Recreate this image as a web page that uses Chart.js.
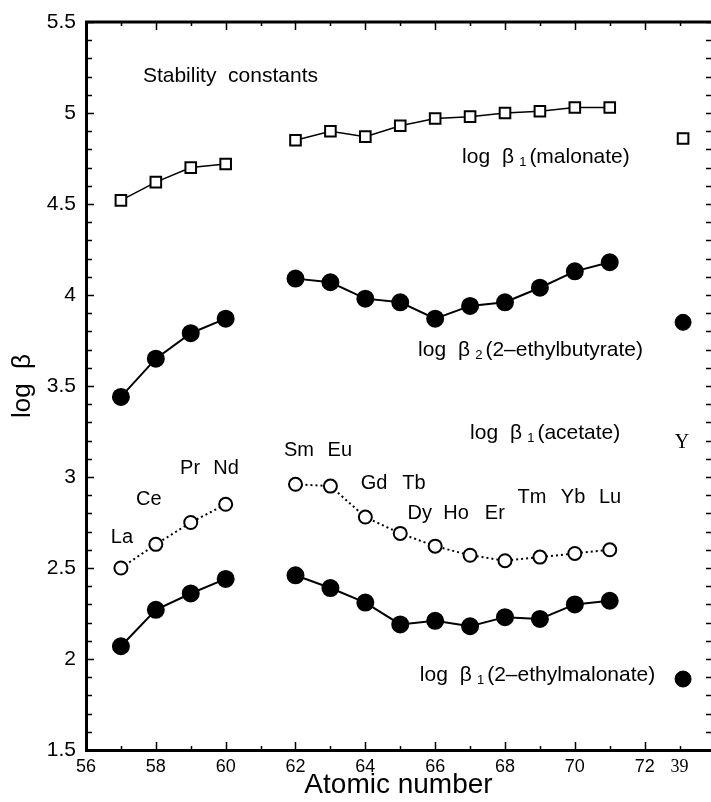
<!DOCTYPE html>
<html>
<head>
<meta charset="utf-8">
<script src="https://cdn.jsdelivr.net/npm/chart.js@4"></script>
<style>
  body { margin: 0; background: #fff; }
  #wrap { width: 711px; height: 802px; position: relative; }
</style>
</head>
<body>
<div id="wrap"><canvas id="chart"></canvas></div>
<script>
// atomic numbers of the lanthanides (61 = Pm, no data)
const atomicNumbers = [57, 58, 59, 60, 61, 62, 63, 64, 65, 66, 67, 68, 69, 70, 71];
const malonate      = [4.52, 4.62, 4.70, 4.72, null, 4.85, 4.90, 4.87, 4.93, 4.97, 4.98, 5.00, 5.01, 5.03, 5.03];
const ethylbutyrate = [3.44, 3.65, 3.79, 3.87, null, 4.09, 4.07, 3.98, 3.96, 3.87, 3.94, 3.96, 4.04, 4.13, 4.18];
const acetate       = [2.50, 2.63, 2.75, 2.85, null, 2.96, 2.95, 2.78, 2.69, 2.62, 2.57, 2.54, 2.56, 2.58, 2.60];
const ethylmalonate = [2.07, 2.27, 2.36, 2.44, null, 2.46, 2.39, 2.31, 2.19, 2.21, 2.18, 2.23, 2.22, 2.30, 2.32];

// yttrium (Z = 39) drawn at the extra slot after 72
const yttriumSlot = 73.1;
const yMalonate = 4.86;
const yEthylbutyrate = 3.85;
const yEthylmalonate = 1.89;

const xTickLabels = { 56: '56', 58: '58', 60: '60', 62: '62', 64: '64', 66: '66', 68: '68', 70: '70', 72: '72', 73: '39' };

const toPoints = vals => vals.map((v, i) => ({ x: atomicNumbers[i], y: v }));

// text placed in data units
const elementLabels = [
  ['La', 57.03, 2.665], ['Ce', 57.80, 2.874], ['Pr', 58.98, 3.049], ['Nd', 60.01, 3.049],
  ['Sm', 62.10, 3.148], ['Eu', 63.27, 3.148], ['Gd', 64.25, 2.967], ['Tb', 65.39, 2.967],
  ['Dy', 65.56, 2.802], ['Ho', 66.60, 2.802], ['Er', 67.71, 2.802],
  ['Tm', 68.77, 2.885], ['Yb', 69.95, 2.885], ['Lu', 71.01, 2.885]
];
const seriesLabels = [
  ['1', '(malonate)', 66.77, 4.758],
  ['2', '(2\u2013ethylbutyrate)', 65.51, 3.698],
  ['1', '(acetate)', 67.0, 3.242],
  ['1', '(2\u2013ethylmalonate)', 65.56, 1.912]
];

const SANS = '"Liberation Sans", Arial, sans-serif';

const framePlugin = {
  id: 'frame',
  afterDraw(chart) {
    const { ctx, chartArea: a, scales: { x, y } } = chart;
    ctx.save();
    ctx.strokeStyle = '#000';
    // top border
    ctx.lineWidth = 3;
    ctx.beginPath();
    ctx.moveTo(a.left - 1, a.top);
    ctx.lineTo(a.right, a.top);
    ctx.stroke();
    // inward ticks
    ctx.lineWidth = 1.5;
    ctx.beginPath();
    for (let i = 56; i <= 73; i++) {
      const px = Math.round(x.getPixelForValue(i)) + 0.5;
      const len = (i % 2 === 0) ? 8 : 4;
      ctx.moveTo(px, a.bottom); ctx.lineTo(px, a.bottom - len);
      ctx.moveTo(px, a.top); ctx.lineTo(px, a.top + len);
    }
    for (let k = 15; k <= 55; k++) {
      const py = Math.round(y.getPixelForValue(k / 10)) + 0.5;
      const len = (k % 5 === 0) ? 8 : 6;
      ctx.moveTo(a.left, py); ctx.lineTo(a.left + len, py);
      ctx.moveTo(a.right, py); ctx.lineTo(a.right - 5, py);
    }
    ctx.stroke();

    // texts
    ctx.fillStyle = '#000';
    ctx.textBaseline = 'middle';
    ctx.font = '21px ' + SANS;
    ctx.textAlign = 'left';
    ctx.fillText('Stability  constants', x.getPixelForValue(57.63), y.getPixelForValue(5.203));

    ctx.font = '20px ' + SANS;
    ctx.textAlign = 'center';
    elementLabels.forEach(([t, vx, vy]) => {
      ctx.fillText(t, x.getPixelForValue(vx), y.getPixelForValue(vy));
    });

    ctx.textAlign = 'left';
    seriesLabels.forEach(([sub, rest, vx, vy]) => {
      let px = x.getPixelForValue(vx);
      const py = y.getPixelForValue(vy);
      ctx.font = '21px ' + SANS;
      ctx.fillText('log', px, py);
      px += ctx.measureText('log').width + 12;
      ctx.fillText('\u03B2', px, py);
      px += ctx.measureText('\u03B2').width + 5;
      ctx.font = '13px ' + SANS;
      ctx.fillText(sub, px, py + 5);
      px += ctx.measureText(sub).width + 3;
      ctx.font = '21px ' + SANS;
      ctx.fillText(rest, px, py);
    });

    ctx.font = '20px "Liberation Serif", "Times New Roman", serif';
    ctx.textAlign = 'center';
    ctx.fillText('Y', x.getPixelForValue(73.07), y.getPixelForValue(3.187));
    ctx.restore();
  }
};

new Chart(document.getElementById('chart'), {
  type: 'line',
  data: {
    datasets: [
      {
        data: toPoints(malonate),
        borderColor: '#000', borderWidth: 1.5,
        pointStyle: 'rect', pointRadius: 7.5, pointBorderWidth: 2,
        pointBackgroundColor: '#fff', pointBorderColor: '#000'
      },
      {
        data: toPoints(ethylbutyrate),
        borderColor: '#000', borderWidth: 2,
        pointStyle: 'circle', pointRadius: 8,
        pointBackgroundColor: '#000', pointBorderColor: '#000'
      },
      {
        data: toPoints(acetate),
        borderColor: '#000', borderWidth: 2, borderDash: [2, 3],
        pointStyle: 'circle', pointRadius: 6.5, pointBorderWidth: 2,
        pointBackgroundColor: '#fff', pointBorderColor: '#000'
      },
      {
        data: toPoints(ethylmalonate),
        borderColor: '#000', borderWidth: 2,
        pointStyle: 'circle', pointRadius: 8,
        pointBackgroundColor: '#000', pointBorderColor: '#000'
      },
      {
        data: [{ x: yttriumSlot, y: yMalonate }], showLine: false,
        pointStyle: 'rect', pointRadius: 7.5, pointBorderWidth: 2,
        pointBackgroundColor: '#fff', pointBorderColor: '#000'
      },
      {
        data: [{ x: yttriumSlot, y: yEthylbutyrate }], showLine: false,
        pointStyle: 'circle', pointRadius: 8,
        pointBackgroundColor: '#000', pointBorderColor: '#000'
      },
      {
        data: [{ x: yttriumSlot, y: yEthylmalonate }], showLine: false,
        pointStyle: 'circle', pointRadius: 8,
        pointBackgroundColor: '#000', pointBorderColor: '#000'
      }
    ]
  },
  options: {
    responsive: true,
    maintainAspectRatio: false,
    animation: false,
    spanGaps: false,
    layout: { autoPadding: false, padding: { top: 22, right: 0, left: 0, bottom: 0 } },
    plugins: { legend: { display: false }, tooltip: { enabled: false } },
    scales: {
      x: {
        type: 'linear',
        min: 56, max: 73.9,
        grid: { display: true, drawOnChartArea: false, drawTicks: false },
        border: { color: '#000', width: 3 },
        ticks: {
          stepSize: 1, autoSkip: false, maxRotation: 0, includeBounds: false,
          padding: 6, color: '#000',
          callback: v => xTickLabels[v] || '',
          font: c => (c.tick && c.tick.value === 73)
            ? { family: '"Liberation Serif", serif', size: 18 }
            : { family: SANS, size: 18 }
        },
        title: {
          display: true, text: 'Atomic number', color: '#000',
          font: { family: SANS, size: 28 }, padding: { top: 0, bottom: 0 }
        },
        afterFit: s => { s.height = 52; s.paddingRight = 0; s.paddingLeft = 0; }
      },
      y: {
        min: 1.5, max: 5.5,
        grid: { display: true, drawOnChartArea: false, drawTicks: false },
        border: { color: '#000', width: 3 },
        ticks: {
          stepSize: 0.5, padding: 10, color: '#000',
          font: { family: SANS, size: 21 },
          callback: v => String(v)
        },
        title: {
          display: true, text: 'log  \u03B2', color: '#000',
          font: { family: SANS, size: 26 }, padding: { top: 7, bottom: 0 }
        },
        afterFit: s => { s.width = 86; s.paddingTop = 0; s.paddingBottom = 0; }
      }
    }
  },
  plugins: [framePlugin]
});
</script>
</body>
</html>
